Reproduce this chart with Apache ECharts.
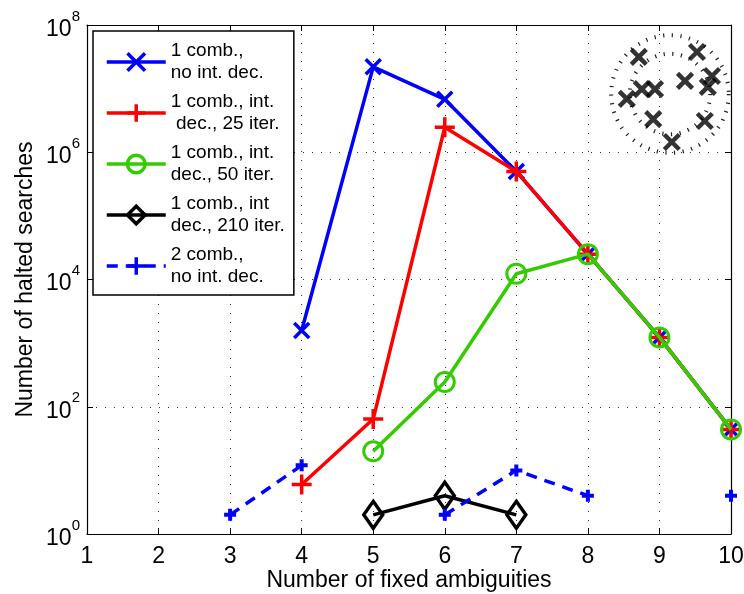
<!DOCTYPE html>
<html>
<head>
<meta charset="utf-8">
<script src="https://cdn.jsdelivr.net/npm/echarts@6/dist/echarts.min.js"></script>
<style>
  html, body { margin: 0; padding: 0; background: #fff; }
  #chart { width: 744px; height: 594px; }
</style>
</head>
<body>
<div id="chart"></div>
<script>
// Number of fixed ambiguities (x) and halted searches per configuration (log y).
const ambiguities = [1, 2, 3, 4, 5, 6, 7, 8, 9, 10];
const oneCombNoIntDec   = [null, null, null, 1580, 2.2e7, 6.8e6, 5.0e5, 2.5e4, 1230, 44];
const oneCombIntDec25   = [null, null, null, 6, 64, 2.47e6, 5.0e5, 2.5e4, 1230, 44];
const oneCombIntDec50   = [null, null, null, null, 20, 245, 1.23e4, 2.5e4, 1230, 44];
const oneCombIntDec210  = [null, null, null, null, 2, 4, 2, null, null, null];
const twoCombNoIntDec   = [null, null, 2, 12, null, 2, 10, 4, null, 4];

const seriesNames = [
  '1 comb.,\nno int. dec.',
  '1 comb., int.\n dec., 25 iter.',
  '1 comb., int.\ndec., 50 iter.',
  '1 comb., int\ndec., 210 iter.',
  '2 comb.,\nno int. dec.'
];

// Constellation sketch in the upper right corner (unit coordinates).
const sketchX = [-0.52, 0.45, 0.70, 0.63, 0.25, -0.47, -0.25, -0.72, -0.28, 0.58, 0.03];
const sketchY = [0.62, 0.70, 0.30, 0.12, 0.22, 0.08, 0.08, -0.08, -0.42, -0.45, -0.80];
const sketchRings = [0.98, 0.67];

const FONT = '"Liberation Sans", Arial, Helvetica, sans-serif';
const X_PATH = 'path://M0,0L10,10M0,10L10,0';
const PLUS_PATH = 'path://M5,0L5,10M0,5L10,5';

const toPairs = vals => ambiguities.map((x, i) => [x, vals[i] == null ? null : vals[i]]);

function lineSeries(name, vals, color, symbol, size, extra) {
  return Object.assign({
    name: name,
    type: 'line',
    xAxisIndex: 0,
    yAxisIndex: 0,
    data: toPairs(vals),
    symbol: symbol,
    symbolSize: size,
    showAllSymbol: true,
    connectNulls: false,
    lineStyle: { color: color, width: 3.5 },
    itemStyle: { color: 'rgba(0,0,0,0)', borderColor: color, borderWidth: 3.5 },
    emphasis: { disabled: true },
    animation: false
  }, extra || {});
}

const chart = echarts.init(document.getElementById('chart'), null, { renderer: 'canvas' });

const yLabelFmt = v => '{b|10}{s|' + Math.round(Math.log10(v)) + '}';

chart.setOption({
  backgroundColor: '#fff',
  animation: false,
  textStyle: { fontFamily: FONT, color: '#000' },
  grid: [
    { left: 87, top: 25, right: 13, bottom: 60, containLabel: false, outerBoundsMode: 'none' },
    { left: 610, top: 34, width: 120, height: 120, outerBoundsMode: 'none' }
  ],
  legend: {
    orient: 'vertical',
    left: 93,
    top: 31,
    padding: [9, 9, 7, 12],
    itemGap: 7,
    itemWidth: 59,
    itemHeight: 22,
    backgroundColor: '#fff',
    borderColor: '#000',
    borderWidth: 1.5,
    borderRadius: 0,
    selectedMode: false,
    textStyle: { fontFamily: FONT, fontSize: 19, lineHeight: 22, color: '#000' },
    itemStyle: { borderWidth: 3.5 },
    lineStyle: { width: 3.5 },
    data: seriesNames
  },
  xAxis: [
    {
      type: 'value', gridIndex: 0, position: 'bottom',
      min: 1, max: 10, interval: 1,
      name: 'Number of fixed ambiguities',
      nameLocation: 'middle', nameGap: 35, nameMoveOverlap: false,
      nameTextStyle: { fontFamily: FONT, fontSize: 23, color: '#000' },
      axisLine: { show: true, onZero: false, lineStyle: { color: '#000', width: 1.2 } },
      axisTick: { show: true, inside: true, length: 6, lineStyle: { color: '#000' } },
      axisLabel: { fontFamily: FONT, fontSize: 23, color: '#000', margin: 11 },
      splitLine: { show: true, lineStyle: { color: '#333', width: 1, type: [1, 8] } }
    },
    {
      type: 'value', gridIndex: 0, position: 'top',
      min: 1, max: 10, interval: 1,
      axisLine: { show: true, onZero: false, lineStyle: { color: '#000', width: 1.2 } },
      axisTick: { show: true, inside: true, length: 6, lineStyle: { color: '#000' } },
      axisLabel: { show: false },
      splitLine: { show: false }
    },
    { type: 'value', gridIndex: 1, min: -1, max: 1, show: false }
  ],
  yAxis: [
    {
      type: 'log', gridIndex: 0, position: 'left', logBase: 100,
      min: 1, max: 1e8,
      name: 'Number of halted searches',
      nameLocation: 'middle', nameGap: 50, nameMoveOverlap: false,
      nameTextStyle: { fontFamily: FONT, fontSize: 23, color: '#000' },
      axisLine: { show: true, onZero: false, lineStyle: { color: '#000', width: 1.2 } },
      axisTick: { show: true, inside: true, length: 6, lineStyle: { color: '#000' } },
      axisLabel: {
        formatter: yLabelFmt, margin: 7,
        rich: {
          b: { fontFamily: FONT, fontSize: 23, color: '#000', lineHeight: 32, verticalAlign: 'bottom' },
          s: { fontFamily: FONT, fontSize: 15, color: '#000', lineHeight: 15, verticalAlign: 'top' }
        }
      },
      splitLine: { show: true, lineStyle: { color: '#333', width: 1, type: [1, 8] } }
    },
    {
      type: 'log', gridIndex: 0, position: 'right', logBase: 100,
      min: 1, max: 1e8,
      axisLine: { show: true, onZero: false, lineStyle: { color: '#000', width: 1.2 } },
      axisTick: { show: true, inside: true, length: 6, lineStyle: { color: '#000' } },
      axisLabel: { show: false },
      splitLine: { show: false }
    },
    { type: 'value', gridIndex: 1, min: -1, max: 1, show: false }
  ],
  series: [
    lineSeries(seriesNames[0], oneCombNoIntDec, '#0000ff', X_PATH, 15, { z: 2 }),
    lineSeries(seriesNames[1], oneCombIntDec25, '#ff0000', PLUS_PATH, 20, { z: 3 }),
    lineSeries(seriesNames[2], oneCombIntDec50, '#33cc00', 'circle', 19, { z: 4, itemStyle: { color: 'rgba(0,0,0,0)', borderColor: '#33cc00', borderWidth: 3 } }),
    lineSeries(seriesNames[3], oneCombIntDec210, '#000000', 'diamond', [19, 27], { z: 5 }),
    lineSeries(seriesNames[4], twoCombNoIntDec, '#0000ff', PLUS_PATH, 12, {
      z: 6,
      lineStyle: { color: '#0000ff', width: 3.5, type: [11, 8] },
      itemStyle: { color: 'rgba(0,0,0,0)', borderColor: '#0000ff', borderWidth: 4 }
    }),
    {
      type: 'custom',
      xAxisIndex: 2, yAxisIndex: 2,
      silent: true,
      z: 7,
      data: sketchRings.map(r => [r, 0]),
      renderItem: (params, api) => {
        const c = api.coord([0, 0]);
        const r = api.size([api.value(0), 0])[0];
        return {
          type: 'circle',
          shape: { cx: c[0], cy: c[1], r: r },
          style: { fill: null, stroke: '#222', lineWidth: 4, lineDash: [1.2, 7.5] }
        };
      }
    },
    {
      type: 'scatter',
      xAxisIndex: 2, yAxisIndex: 2,
      silent: true,
      z: 8,
      symbol: X_PATH,
      symbolSize: 15,
      itemStyle: { color: 'rgba(0,0,0,0)', borderColor: '#000', borderWidth: 4.5 },
      data: sketchX.map((x, i) => [x, sketchY[i]])
    }
  ]
});
</script>
</body>
</html>
